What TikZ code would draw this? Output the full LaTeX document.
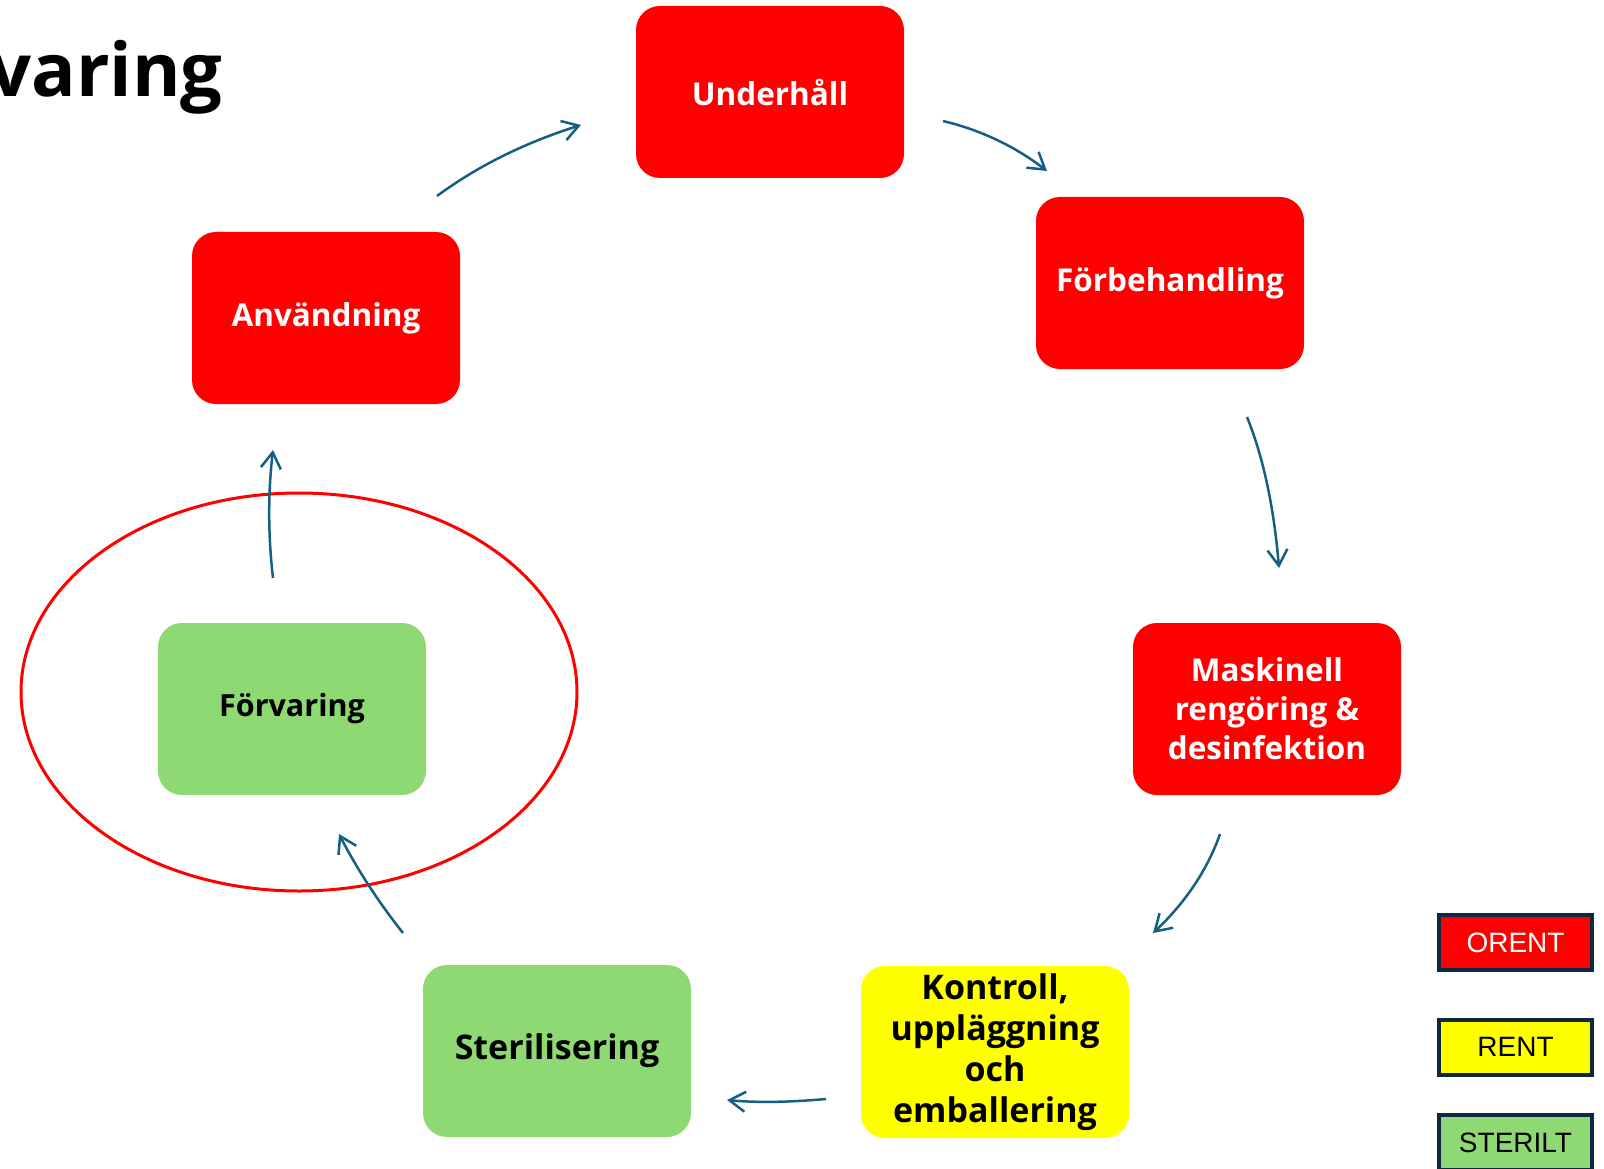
\documentclass[tikz,border=0pt]{standalone}
\usepackage{fontspec}
\setmainfont{Open Sans}
\setsansfont{Liberation Sans}
\usetikzlibrary{arrows.meta}
\definecolor{orent}{HTML}{FF0000}
\definecolor{rent}{HTML}{FFFF00}
\definecolor{steril}{HTML}{8ED973}
\definecolor{arr}{HTML}{156082}
\definecolor{navy}{HTML}{0E2841}
\begin{document}
\begin{tikzpicture}[x=1pt,y=-1pt,
  box/.style={rounded corners=24pt, minimum width=268pt, minimum height=172pt, inner sep=0pt, align=center, font=\fontsize{31.5}{39}\selectfont\bfseries},
  redbox/.style={box, fill=orent, text=white},
  yellowbox/.style={box, fill=rent, text=black},
  greenbox/.style={box, fill=steril, text=black},
  flow/.style={draw=arr, line width=2.5pt, -{Straight Barb[length=16pt,width=20pt]}},
  legend/.style={draw=navy, line width=4pt, minimum width=153pt, minimum height=55pt, inner sep=0pt, font=\sffamily\fontsize{28}{34}\selectfont}]
\useasboundingbox (0,0) rectangle (1604,1169);
\clip (0,0) rectangle (1604,1169);
\fill[white] (0,0) rectangle (1604,1169);

% title (cut at the left edge, as in the reference)
\node[anchor=base east, inner sep=0pt, font=\fontsize{74}{90}\selectfont\bfseries] (title) at (223,97) {Förvaring};

% boxes
\node[redbox] (underhall) at (770,92) {Underhåll};
\node[redbox] (forbeh) at (1170,283) {Förbehandling};
\node[redbox] (maskin) at (1267,709) {Maskinell\\rengöring \&\\desinfektion};
\node[yellowbox, font=\fontsize{34}{41}\selectfont\bfseries] (kontroll) at (995,1052) {Kontroll,\\uppläggning\\och\\emballering};
\node[greenbox, font=\fontsize{34}{41}\selectfont\bfseries] (steril) at (557,1051) {Sterilisering};
\node[greenbox, font=\fontsize{30.5}{38}\selectfont\bfseries] (forvaring) at (292,709) {Förvaring};
\node[redbox] (anvand) at (326,318) {Användning};

% highlight ring
\draw[orent, line width=3pt] (299,692) ellipse [x radius=278, y radius=199];

% arrow end points
\coordinate (a1s) at (437,196);  \coordinate (a1e) at (581,125);
\coordinate (a2s) at (943,121);  \coordinate (a2e) at (1047,171);
\coordinate (a3s) at (1247,417); \coordinate (a3e) at (1279,568);
\coordinate (a4s) at (1220,834); \coordinate (a4e) at (1153,933);
\coordinate (a5s) at (826,1099); \coordinate (a5e) at (727,1100);
\coordinate (a6s) at (403,933);  \coordinate (a6e) at (339,834);
\coordinate (a7s) at (273,578);  \coordinate (a7e) at (273,450);

\draw[flow] (a1s) .. controls (479,165) and (527,142) .. (a1e);
\draw[flow] (a2s) .. controls (981,130) and (1016,147) .. (a2e);
\draw[flow] (a3s) .. controls (1264,459) and (1274,509) .. (a3e);
\draw[flow] (a4s) .. controls (1207,871) and (1184,904) .. (a4e);
\draw[flow] (a5s) .. controls (792,1102) and (759,1103) .. (a5e);
\draw[flow] (a6s) .. controls (380,904) and (358,871) .. (a6e);
\draw[flow] (a7s) .. controls (268,535) and (268,493) .. (a7e);

% legend
\node[legend, fill=orent, text=white] (lgorent) at (1515.5,942.5) {ORENT};
\node[legend, fill=rent, text=black] (lgrent) at (1515.5,1047) {RENT};
\node[legend, fill=steril, text=black] (lgsteril) at (1515.5,1142.5) {STERILT};
\end{tikzpicture}
\end{document}
